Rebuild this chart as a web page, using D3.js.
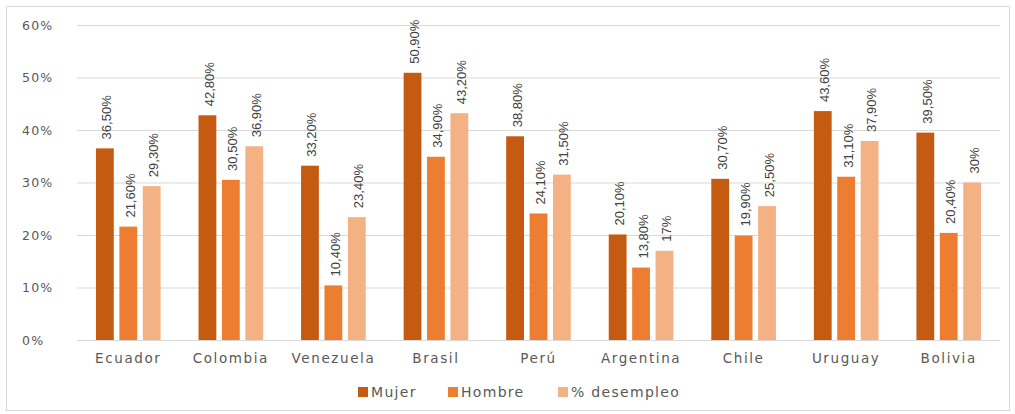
<!DOCTYPE html>
<html>
<head>
<meta charset="utf-8">
<script src="https://cdn.jsdelivr.net/npm/d3@7"></script>
<style>
  html, body { margin: 0; padding: 0; background: #fff; }
  svg { display: block; }
</style>
</head>
<body>
<svg id="chart" width="1015" height="414"></svg>
<script>
// Chart data
const categories = ["Ecuador", "Colombia", "Venezuela", "Brasil", "Perú", "Argentina", "Chile", "Uruguay", "Bolivia"];
const seriesNames = ["Mujer", "Hombre", "% desempleo"];
const mujer = [36.5, 42.8, 33.2, 50.9, 38.8, 20.1, 30.7, 43.6, 39.5];
const hombre = [21.6, 30.5, 10.4, 34.9, 24.1, 13.8, 19.9, 31.1, 20.4];
const desempleo = [29.3, 36.9, 23.4, 43.2, 31.5, 17, 25.5, 37.9, 30];
const yTicks = [0, 10, 20, 30, 40, 50, 60];

const seriesValues = [mujer, hombre, desempleo];
const colors = ["#C55A11", "#ED7D31", "#F4B183"];

const svg = d3.select("#chart");
const W = 1015, H = 414;
const margin = { left: 77, right: 15, top: 25, bottom: 74 };

// outer frame
svg.append("rect")
  .attr("x", 6.5).attr("y", 6.5)
  .attr("width", W - 12).attr("height", H - 10)
  .attr("fill", "#fff").attr("stroke", "#d9d9d9");

const x = d3.scaleBand()
  .domain(categories)
  .range([margin.left, W - margin.right])
  .paddingInner(0.37)
  .paddingOuter(0.185);

const xi = d3.scaleBand()
  .domain(seriesNames)
  .range([0, x.bandwidth()])
  .paddingInner(0.24);

const y = d3.scaleLinear()
  .domain([0, 60])
  .range([H - margin.bottom, margin.top]);

// gridlines and y labels
const yAxis = d3.axisLeft(y)
  .tickValues(yTicks)
  .tickSize(-(W - margin.right - margin.left))
  .tickFormat(d => d + "%");

const gy = svg.append("g")
  .attr("transform", `translate(${margin.left},0)`)
  .call(yAxis);
gy.select(".domain").remove();
gy.selectAll(".tick line").attr("stroke", "#d9d9d9").attr("stroke-width", 1);
gy.selectAll(".tick text")
  .attr("fill", "#595959")
  .style("font-family", "'DejaVu Sans', sans-serif")
  .style("font-size", "12.5px")
  .style("letter-spacing", "1.2px")
  .attr("text-anchor", "start")
  .attr("x", -(margin.left - 22));

// x category labels
const xAxis = d3.axisBottom(x).tickSize(0).tickPadding(13);
const gx = svg.append("g")
  .attr("transform", `translate(0,${y(0)})`)
  .call(xAxis);
gx.select(".domain").remove();
gx.selectAll(".tick text")
  .attr("fill", "#595959")
  .style("font-family", "'DejaVu Sans', sans-serif")
  .style("font-size", "13.5px")
  .style("letter-spacing", "1.6px");

const fmt = v => (Number.isInteger(v) ? String(v) : v.toFixed(2).replace(".", ",")) + "%";

// bars with rotated value labels
const groups = svg.append("g").selectAll("g")
  .data(categories)
  .join("g")
  .attr("transform", d => `translate(${x(d)},0)`);

seriesNames.forEach((s, si) => {
  groups.append("rect")
    .attr("x", xi(s))
    .attr("width", xi.bandwidth())
    .attr("y", (d, i) => y(seriesValues[si][i]))
    .attr("height", (d, i) => y(0) - y(seriesValues[si][i]))
    .attr("fill", colors[si]);

  groups.append("text")
    .attr("transform", (d, i) => `translate(${xi(s) + xi.bandwidth() / 2 + 6.5},${y(seriesValues[si][i]) - 9}) rotate(-90)`)
    .attr("text-anchor", "start")
    .attr("fill", "#404040")
    .style("font-family", "'Liberation Sans', 'Arial', sans-serif")
    .style("font-size", "13px")
    .text((d, i) => fmt(seriesValues[si][i]));
});

// legend
const legendX = [358, 448, 558];
const lg = svg.append("g");
seriesNames.forEach((s, si) => {
  lg.append("rect")
    .attr("x", legendX[si]).attr("y", 387)
    .attr("width", 10).attr("height", 10)
    .attr("fill", colors[si]);
  lg.append("text")
    .attr("x", legendX[si] + 13).attr("y", 397)
    .attr("fill", "#595959")
    .style("font-family", "'DejaVu Sans', sans-serif")
    .style("font-size", "14px")
    .style("letter-spacing", "1.3px")
    .text(s);
});
</script>
</body>
</html>
